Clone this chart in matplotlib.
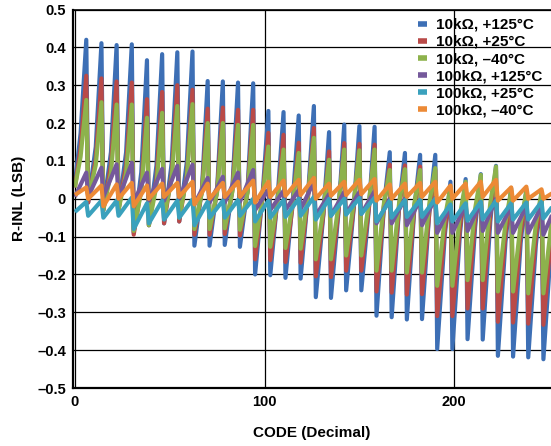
import matplotlib
import numpy as np

matplotlib.use("Agg")
import matplotlib.pyplot as plt

plt.rcParams["font.family"] = ["Liberation Sans", "DejaVu Sans"]
plt.rcParams["font.weight"] = "bold"

# one sawtooth segment per 8 codes: low at the segment start, peak near its end
n_segments = 32
trough_codes = np.arange(n_segments) * 8 - 1
trough_codes[0] = 0
mid_codes = np.arange(n_segments) * 8 + 3
peak_codes = np.arange(n_segments) * 8 + 6

labels = ["10k\u03a9, +125\u00b0C", "10k\u03a9, +25\u00b0C", "10k\u03a9, \u201340\u00b0C",
          "100k\u03a9, +125\u00b0C", "100k\u03a9, +25\u00b0C", "100k\u03a9, \u201340\u00b0C"]
colors = ["#3d6fb5", "#b94a48", "#8db24c", "#75599b", "#3aa1bd", "#ec8a36"]

blue_troughs = [0.04, -0.01, -0.03, -0.03, -0.09, -0.07, -0.065, -0.06,
                -0.124, -0.124, -0.122, -0.127, -0.2, -0.202, -0.209, -0.211,
                -0.26, -0.262, -0.242, -0.242, -0.309, -0.313, -0.319, -0.318,
                -0.397, -0.397, -0.371, -0.372, -0.415, -0.417, -0.419, -0.424]
blue_mids = [0.173, 0.137, 0.123, 0.123, 0.07, 0.088, 0.093, 0.097,
             0.028, 0.028, 0.028, 0.024, 0.016, 0.013, 0.005, 0.017,
             -0.042, -0.033, -0.025, -0.026, -0.015, -0.018, -0.023, -0.023,
             -0.097, -0.092, -0.075, -0.06, -0.114, -0.117, -0.123, -0.124]
blue_peaks = [0.42, 0.411, 0.406, 0.408, 0.366, 0.382, 0.387, 0.389,
              0.311, 0.31, 0.307, 0.305, 0.232, 0.229, 0.22, 0.245,
              0.176, 0.196, 0.192, 0.19, 0.123, 0.121, 0.116, 0.116,
              0.045, 0.052, 0.065, 0.087, 0.028, 0.025, 0.016, 0.018]

red_troughs = [0.03, -0.01, -0.03, -0.03, -0.095, -0.07, -0.065, -0.06,
               -0.095, -0.095, -0.093, -0.097, -0.16, -0.162, -0.167, -0.169,
               -0.205, -0.207, -0.19, -0.19, -0.245, -0.248, -0.253, -0.252,
               -0.31, -0.31, -0.29, -0.29, -0.325, -0.327, -0.33, -0.333]
red_mids = [0.133, 0.105, 0.089, 0.088, 0.03, 0.053, 0.063, 0.062,
            0.022, 0.023, 0.022, 0.019, 0.007, 0.003, -0.01, 0.009,
            -0.04, -0.03, -0.023, -0.024, -0.017, -0.02, -0.023, -0.029,
            -0.082, -0.075, -0.056, -0.041, -0.092, -0.093, -0.1, -0.101]
red_peaks = [0.325, 0.318, 0.31, 0.307, 0.263, 0.282, 0.3, 0.288,
             0.238, 0.241, 0.235, 0.235, 0.174, 0.169, 0.148, 0.187,
             0.125, 0.147, 0.145, 0.143, 0.09, 0.088, 0.085, 0.076,
             0.025, 0.035, 0.054, 0.076, 0.018, 0.017, 0.008, 0.008]

green_troughs = [0.03, 0.0, -0.03, -0.03, -0.085, -0.07, -0.05, -0.05,
                 -0.08, -0.08, -0.078, -0.082, -0.125, -0.127, -0.13, -0.132,
                 -0.16, -0.16, -0.15, -0.15, -0.19, -0.19, -0.195, -0.195,
                 -0.23, -0.23, -0.215, -0.215, -0.245, -0.245, -0.25, -0.25]
green_mids = [0.111, 0.089, 0.068, 0.068, 0.02, 0.034, 0.053, 0.055,
              0.018, 0.018, 0.018, 0.015, 0.007, 0.002, -0.005, 0.015,
              -0.029, -0.015, -0.011, -0.01, -0.009, -0.008, -0.011, -0.007,
              -0.052, -0.043, -0.026, -0.011, -0.063, -0.065, -0.068, -0.073]
green_peaks = [0.261, 0.255, 0.249, 0.249, 0.214, 0.227, 0.245, 0.25,
               0.2, 0.2, 0.195, 0.195, 0.138, 0.13, 0.121, 0.161,
               0.103, 0.13, 0.128, 0.13, 0.076, 0.078, 0.076, 0.081,
               0.032, 0.045, 0.063, 0.085, 0.023, 0.02, 0.018, 0.01]

purple_troughs = [0.005, 0.005, 0.005, 0.0, -0.01, -0.005, -0.005, 0.0,
                  -0.015, -0.01, -0.01, -0.008, -0.03, -0.03, -0.03, -0.028,
                  -0.045, -0.045, -0.04, -0.04, -0.065, -0.065, -0.07, -0.07,
                  -0.09, -0.09, -0.085, -0.085, -0.09, -0.09, -0.09, -0.095]
purple_peaks = [0.069, 0.082, 0.091, 0.095, 0.069, 0.079, 0.087, 0.09,
                0.055, 0.058, 0.069, 0.076, 0.024, 0.021, 0.023, 0.045,
                0.012, 0.018, 0.018, 0.02, 0.0, 0.0, -0.003, 0.002,
                -0.02, -0.015, -0.01, 0.0, -0.02, -0.02, -0.02, -0.015]

cyan_troughs = [-0.035, -0.045, -0.05, -0.045, -0.08, -0.065, -0.055, -0.05,
                -0.07, -0.05, -0.05, -0.045, -0.06, -0.05, -0.048, -0.045,
                -0.055, -0.045, -0.042, -0.04, -0.06, -0.05, -0.048, -0.048,
                -0.065, -0.06, -0.058, -0.055, -0.06, -0.055, -0.055, -0.052]
cyan_peaks = [-0.008, -0.005, -0.005, 0.003, -0.012, -0.005, -0.005, -0.002,
              -0.008, -0.005, -0.003, 0.0, -0.005, -0.003, 0.0, 0.005,
              0.0, 0.0, 0.002, 0.003, -0.005, -0.003, -0.003, 0.0,
              -0.015, -0.012, -0.008, -0.005, -0.012, -0.01, -0.008, -0.006]

orange_troughs = [0.01, 0.0, -0.02, 0.0, -0.02, 0.0, 0.005, 0.005,
                  -0.015, 0.0, 0.005, 0.005, -0.01, 0.005, 0.008, 0.01,
                  0.0, 0.008, 0.01, 0.012, -0.005, 0.0, 0.005, 0.005,
                  -0.01, 0.0, 0.002, 0.005, -0.005, -0.005, 0.0, 0.0]
orange_peaks = [0.03, 0.035, 0.038, 0.042, 0.035, 0.04, 0.042, 0.045,
                0.04, 0.042, 0.045, 0.048, 0.045, 0.048, 0.05, 0.055,
                0.04, 0.045, 0.05, 0.052, 0.038, 0.04, 0.042, 0.045,
                0.035, 0.04, 0.045, 0.05, 0.03, 0.032, 0.025, 0.022]

# (troughs, mids, peaks); the 100k curves are plain ramps
series = [
    (blue_troughs, blue_mids, blue_peaks),
    (red_troughs, red_mids, red_peaks),
    (green_troughs, green_mids, green_peaks),
    (purple_troughs, None, purple_peaks),
    (cyan_troughs, None, cyan_peaks),
    (orange_troughs, None, orange_peaks),
]

y_ticks = np.round(np.arange(-0.5, 0.51, 0.1), 1)
y_tick_labels = ["\u20130.5", "\u20130.4", "\u20130.3", "\u20130.2", "\u20130.1",
                 "0", "0.1", "0.2", "0.3", "0.4", "0.5"]
x_ticks = [0, 100, 200]


def build_plot():
    fig = plt.figure(figsize=(5.51, 4.46), dpi=100)
    ax = fig.add_axes([73 / 551, 58 / 446, 1 - 73 / 551, (388 - 9.5) / 446])

    for (lows, mids, highs), color, label in zip(series, colors, labels):
        if mids is None:
            x = np.column_stack([trough_codes, peak_codes]).ravel()
            y = np.column_stack([lows, highs]).ravel()
        else:
            x = np.column_stack([trough_codes, mid_codes, peak_codes]).ravel()
            y = np.column_stack([lows, mids, highs]).ravel()
        ax.plot(x, y, color=color, linewidth=3, label=label,
                solid_joinstyle="round", solid_capstyle="butt")

    ax.set_xlim(-1, 251)
    ax.set_ylim(-0.5, 0.5)
    ax.set_yticks(y_ticks)
    ax.set_yticklabels(y_tick_labels)
    ax.set_xticks(x_ticks)
    ax.tick_params(length=0, labelsize=10.5, pad=5)
    for lbl in ax.get_xticklabels() + ax.get_yticklabels():
        lbl.set_fontweight("bold")

    ax.grid(True, color="black", linewidth=0.9)
    ax.set_axisbelow(True)
    for side in ["left", "bottom"]:
        ax.spines[side].set_linewidth(1.6)
    ax.spines["top"].set_linewidth(1.2)
    ax.spines["right"].set_visible(False)

    ax.set_xlabel("CODE (Decimal)", fontsize=11, fontweight="bold", labelpad=12)
    ax.set_ylabel("R-INL (LSB)", fontsize=11, fontweight="bold", labelpad=8)

    leg = ax.legend(loc="upper right", frameon=False, fontsize=11,
                    handlelength=0.6, handletextpad=0.6, labelspacing=0.2,
                    borderaxespad=0.15)
    for line in leg.get_lines():
        line.set_linewidth(4)
    for txt in leg.get_texts():
        txt.set_fontweight("bold")
    return fig, ax


def main() -> None:
    fig, _ = build_plot()
    fig.savefig("out.png", dpi=100)


if __name__ == "__main__":
    main()
